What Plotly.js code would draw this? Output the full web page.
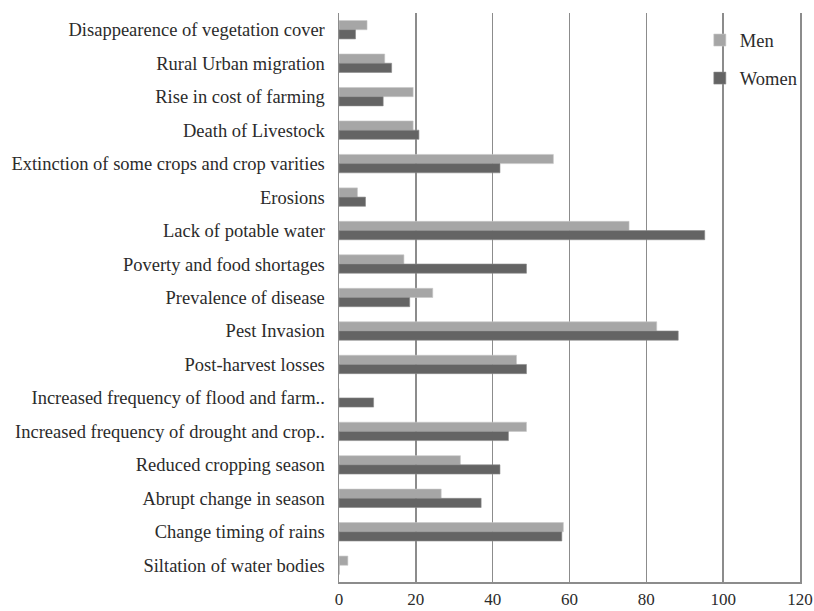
<!DOCTYPE html>
<html>
<head>
<meta charset="utf-8">
<script src="https://cdn.plot.ly/plotly-3.0.1.min.js"></script>
<style>html,body{margin:0;padding:0;background:#fff;}#chart{width:814px;height:611px;}</style>
</head>
<body>
<div id="chart"></div>
<script>
const categories = [
  "Disappearence of vegetation cover",
  "Rural Urban migration",
  "Rise in cost of farming",
  "Death of Livestock",
  "Extinction of some crops and crop varities",
  "Erosions",
  "Lack of potable water",
  "Poverty and food shortages",
  "Prevalence of disease",
  "Pest Invasion",
  "Post-harvest losses",
  "Increased frequency of flood and farm..",
  "Increased frequency of drought and crop..",
  "Reduced cropping season",
  "Abrupt change in season",
  "Change timing of rains",
  "Siltation of water bodies"
];
const men   = [7.3, 11.9, 19.3, 19.3, 55.8, 4.8, 75.5, 16.9, 24.4, 82.7, 46.2, 0, 48.8, 31.6, 26.6, 58.4, 2.3];
const women = [4.3, 13.7, 11.5, 20.8, 41.9, 6.9, 95.2, 48.8, 18.4, 88.3, 48.8, 9.0, 44.1, 41.9, 37.0, 58.0, 0];
const xTicks = [0, 20, 40, 60, 80, 100, 120];

const font = "Liberation Serif, Times New Roman, serif";

const traces = [
  {type: "bar", orientation: "h", name: "Men", y: categories, x: men, legendgroup: "m",
   marker: {color: "#a6a6a6", line: {color: "#c8c8c8", width: 0.6}}},
  {type: "bar", orientation: "h", name: "Women", y: categories, x: women, legendgroup: "w",
   marker: {color: "#646464", line: {color: "#8a8a8a", width: 0.6}}}
];

const layout = {
  width: 814, height: 611,
  margin: {l: 339, r: 13, t: 13, b: 29},
  paper_bgcolor: "#fff", plot_bgcolor: "#fff",
  font: {family: font, size: 18.5, color: "#2b2b2b"},
  barmode: "group",
  bargap: 0.45, bargroupgap: 0,
  xaxis: {
    range: [0, 120], tickvals: xTicks, ticktext: xTicks.map(String),
    showgrid: true, gridcolor: "#8c8c8c", gridwidth: 1.5,
    zeroline: false, showline: true, linecolor: "#8c8c8c", linewidth: 1.5,
    ticks: "outside", ticklen: 1, tickcolor: "rgba(0,0,0,0)",
    tickfont: {family: font, size: 17, color: "#2b2b2b"}, fixedrange: true
  },
  yaxis: {
    type: "category", autorange: "reversed",
    showgrid: false, zeroline: false, showline: true, mirror: true,
    linecolor: "#8c8c8c", linewidth: 1.5,
    ticks: "", ticklabelstandoff: 9,
    tickfont: {family: font, size: 18.5, color: "#2b2b2b"}, fixedrange: true
  },
  showlegend: true,
  legend: {
    x: 0.781, y: 0.985, xanchor: "left", yanchor: "top",
    bgcolor: "rgba(0,0,0,0)", borderwidth: 0,
    traceorder: "grouped", tracegroupgap: 11,
    font: {family: font, size: 18.5, color: "#2b2b2b"}
  }
};

Plotly.newPlot("chart", traces, layout, {displayModeBar: false, staticPlot: true});
</script>
</body>
</html>
